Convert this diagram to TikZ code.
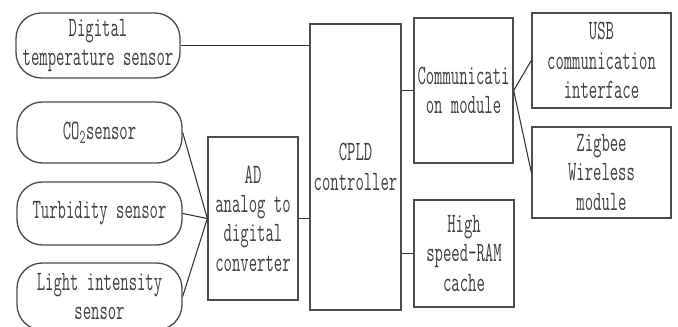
\documentclass[tikz,border=0pt]{standalone}
\usepackage{fontspec}
\setmonofont[FakeStretch=0.58]{Latin Modern Mono}
\usetikzlibrary{calc}

\newcommand{\px}{0.75pt}

\tikzset{
  blk/.style={draw=black!70, line width=1pt, text=black!75, align=center, inner sep=1pt,
    font=\ttfamily\fontsize{21}{22}\selectfont},
  sensor/.style={blk, rounded corners=19pt, minimum width=165*\px},
  wire/.style={black!80, line width=0.8pt}
}

\begin{document}
\begin{tikzpicture}[x=0.75pt, y=-0.75pt]
\useasboundingbox (0,0) rectangle (678,327);
\clip (0,0) rectangle (678,327);

% sensors on left
\node[sensor, minimum width=164*\px, minimum height=65*\px] (temp) at (98,45.5) {Digital\\temperature sensor};
\node[sensor, minimum height=61*\px] (co2) at (99.5,132.5) {CO\textsubscript{2}sensor};
\node[sensor, minimum height=63*\px] (turb) at (99.5,213.5) {Turbidity sensor};
\node[sensor, minimum height=67*\px] (light) at (99.5,296.5) {Light intensity\\sensor};

% converter and controller
\node[blk, minimum width=90*\px, minimum height=163*\px] (ad) at (253,218.5) {AD\\analog to\\digital\\converter};
\node[blk, minimum width=91*\px, minimum height=286*\px] (cpld) at (355.5,167) {CPLD\\controller};

% modules on right
\node[blk, minimum width=99*\px, minimum height=145*\px] (comm) at (463.5,90.5) {Communicati\\on module};
\node[blk, minimum width=100*\px, minimum height=107*\px] (ram) at (464,253.5) {High\\speed-RAM\\cache};
\node[blk, minimum width=139*\px, minimum height=95*\px] (usb) at (601.5,60.5) {USB\\communication\\interface};
\node[blk, minimum width=139*\px, minimum height=91*\px] (zig) at (601.5,172.5) {Zigbee\\Wireless\\module};

% connections
\draw[wire] (temp.east) -- (temp.east -| cpld.west);
\foreach \s in {co2,turb,light}
  \draw[wire] (\s.east) -- (ad.west);
\draw[wire] (ad.east) -- (ad.east -| cpld.west);
\draw[wire] (comm.west -| cpld.east) -- (comm.west);
\draw[wire] (ram.west -| cpld.east) -- (ram.west);
\draw[wire] (comm.east) -- (usb.west);
\draw[wire] (comm.east) -- (zig.west);
\end{tikzpicture}
\end{document}
